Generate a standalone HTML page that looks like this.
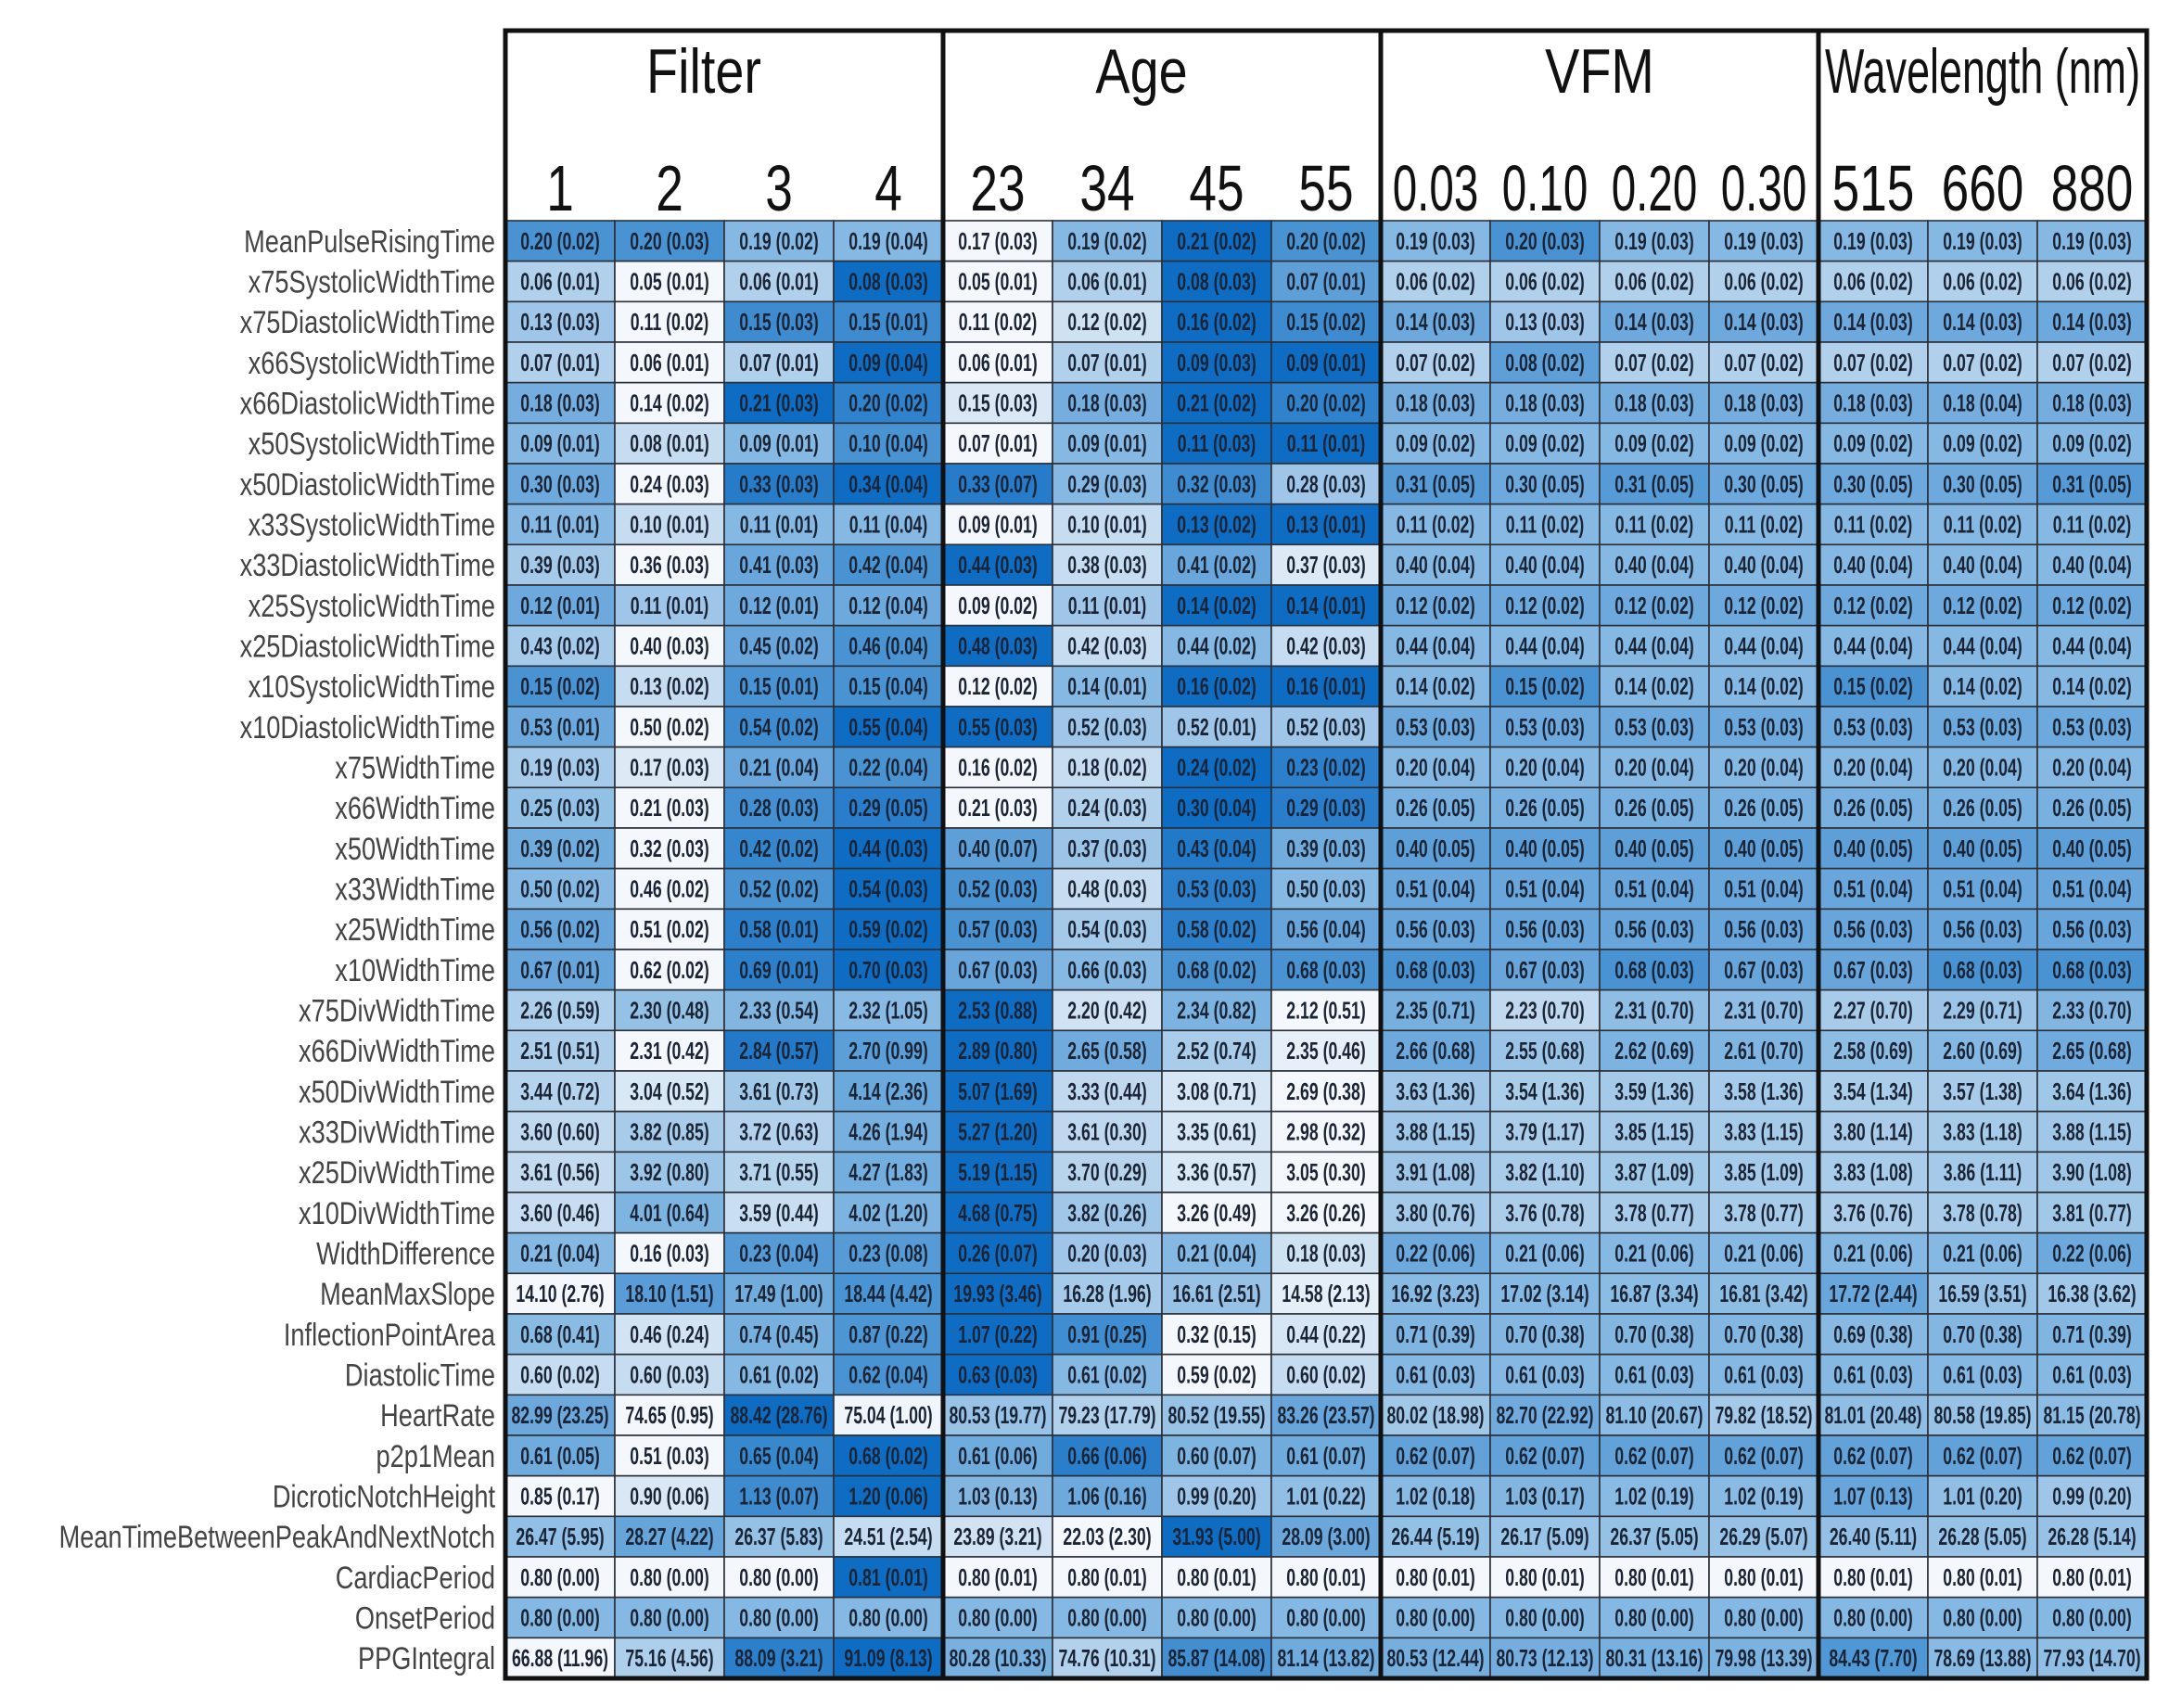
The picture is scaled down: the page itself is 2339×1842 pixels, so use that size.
<!DOCTYPE html>
<html><head><meta charset="utf-8"><style>
html,body{margin:0;padding:0;background:#fff;}
svg{display:block;}
</style></head><body>
<svg id="chart" width="2339" height="1842" viewBox="0 0 2339 1842" xmlns="http://www.w3.org/2000/svg"></svg>
<script>
const groups = ["Filter","Age","VFM","Wavelength (nm)"];
const groupCols = [["1","2","3","4"],["23","34","45","55"],["0.03","0.10","0.20","0.30"],["515","660","880"]];
const rowLabels = ["MeanPulseRisingTime","x75SystolicWidthTime","x75DiastolicWidthTime","x66SystolicWidthTime","x66DiastolicWidthTime","x50SystolicWidthTime","x50DiastolicWidthTime","x33SystolicWidthTime","x33DiastolicWidthTime","x25SystolicWidthTime","x25DiastolicWidthTime","x10SystolicWidthTime","x10DiastolicWidthTime","x75WidthTime","x66WidthTime","x50WidthTime","x33WidthTime","x25WidthTime","x10WidthTime","x75DivWidthTime","x66DivWidthTime","x50DivWidthTime","x33DivWidthTime","x25DivWidthTime","x10DivWidthTime","WidthDifference","MeanMaxSlope","InflectionPointArea","DiastolicTime","HeartRate","p2p1Mean","DicroticNotchHeight","MeanTimeBetweenPeakAndNextNotch","CardiacPeriod","OnsetPeriod","PPGIntegral"];
const cellText = [
["0.20 (0.02)","0.20 (0.03)","0.19 (0.02)","0.19 (0.04)","0.17 (0.03)","0.19 (0.02)","0.21 (0.02)","0.20 (0.02)","0.19 (0.03)","0.20 (0.03)","0.19 (0.03)","0.19 (0.03)","0.19 (0.03)","0.19 (0.03)","0.19 (0.03)"],
["0.06 (0.01)","0.05 (0.01)","0.06 (0.01)","0.08 (0.03)","0.05 (0.01)","0.06 (0.01)","0.08 (0.03)","0.07 (0.01)","0.06 (0.02)","0.06 (0.02)","0.06 (0.02)","0.06 (0.02)","0.06 (0.02)","0.06 (0.02)","0.06 (0.02)"],
["0.13 (0.03)","0.11 (0.02)","0.15 (0.03)","0.15 (0.01)","0.11 (0.02)","0.12 (0.02)","0.16 (0.02)","0.15 (0.02)","0.14 (0.03)","0.13 (0.03)","0.14 (0.03)","0.14 (0.03)","0.14 (0.03)","0.14 (0.03)","0.14 (0.03)"],
["0.07 (0.01)","0.06 (0.01)","0.07 (0.01)","0.09 (0.04)","0.06 (0.01)","0.07 (0.01)","0.09 (0.03)","0.09 (0.01)","0.07 (0.02)","0.08 (0.02)","0.07 (0.02)","0.07 (0.02)","0.07 (0.02)","0.07 (0.02)","0.07 (0.02)"],
["0.18 (0.03)","0.14 (0.02)","0.21 (0.03)","0.20 (0.02)","0.15 (0.03)","0.18 (0.03)","0.21 (0.02)","0.20 (0.02)","0.18 (0.03)","0.18 (0.03)","0.18 (0.03)","0.18 (0.03)","0.18 (0.03)","0.18 (0.04)","0.18 (0.03)"],
["0.09 (0.01)","0.08 (0.01)","0.09 (0.01)","0.10 (0.04)","0.07 (0.01)","0.09 (0.01)","0.11 (0.03)","0.11 (0.01)","0.09 (0.02)","0.09 (0.02)","0.09 (0.02)","0.09 (0.02)","0.09 (0.02)","0.09 (0.02)","0.09 (0.02)"],
["0.30 (0.03)","0.24 (0.03)","0.33 (0.03)","0.34 (0.04)","0.33 (0.07)","0.29 (0.03)","0.32 (0.03)","0.28 (0.03)","0.31 (0.05)","0.30 (0.05)","0.31 (0.05)","0.30 (0.05)","0.30 (0.05)","0.30 (0.05)","0.31 (0.05)"],
["0.11 (0.01)","0.10 (0.01)","0.11 (0.01)","0.11 (0.04)","0.09 (0.01)","0.10 (0.01)","0.13 (0.02)","0.13 (0.01)","0.11 (0.02)","0.11 (0.02)","0.11 (0.02)","0.11 (0.02)","0.11 (0.02)","0.11 (0.02)","0.11 (0.02)"],
["0.39 (0.03)","0.36 (0.03)","0.41 (0.03)","0.42 (0.04)","0.44 (0.03)","0.38 (0.03)","0.41 (0.02)","0.37 (0.03)","0.40 (0.04)","0.40 (0.04)","0.40 (0.04)","0.40 (0.04)","0.40 (0.04)","0.40 (0.04)","0.40 (0.04)"],
["0.12 (0.01)","0.11 (0.01)","0.12 (0.01)","0.12 (0.04)","0.09 (0.02)","0.11 (0.01)","0.14 (0.02)","0.14 (0.01)","0.12 (0.02)","0.12 (0.02)","0.12 (0.02)","0.12 (0.02)","0.12 (0.02)","0.12 (0.02)","0.12 (0.02)"],
["0.43 (0.02)","0.40 (0.03)","0.45 (0.02)","0.46 (0.04)","0.48 (0.03)","0.42 (0.03)","0.44 (0.02)","0.42 (0.03)","0.44 (0.04)","0.44 (0.04)","0.44 (0.04)","0.44 (0.04)","0.44 (0.04)","0.44 (0.04)","0.44 (0.04)"],
["0.15 (0.02)","0.13 (0.02)","0.15 (0.01)","0.15 (0.04)","0.12 (0.02)","0.14 (0.01)","0.16 (0.02)","0.16 (0.01)","0.14 (0.02)","0.15 (0.02)","0.14 (0.02)","0.14 (0.02)","0.15 (0.02)","0.14 (0.02)","0.14 (0.02)"],
["0.53 (0.01)","0.50 (0.02)","0.54 (0.02)","0.55 (0.04)","0.55 (0.03)","0.52 (0.03)","0.52 (0.01)","0.52 (0.03)","0.53 (0.03)","0.53 (0.03)","0.53 (0.03)","0.53 (0.03)","0.53 (0.03)","0.53 (0.03)","0.53 (0.03)"],
["0.19 (0.03)","0.17 (0.03)","0.21 (0.04)","0.22 (0.04)","0.16 (0.02)","0.18 (0.02)","0.24 (0.02)","0.23 (0.02)","0.20 (0.04)","0.20 (0.04)","0.20 (0.04)","0.20 (0.04)","0.20 (0.04)","0.20 (0.04)","0.20 (0.04)"],
["0.25 (0.03)","0.21 (0.03)","0.28 (0.03)","0.29 (0.05)","0.21 (0.03)","0.24 (0.03)","0.30 (0.04)","0.29 (0.03)","0.26 (0.05)","0.26 (0.05)","0.26 (0.05)","0.26 (0.05)","0.26 (0.05)","0.26 (0.05)","0.26 (0.05)"],
["0.39 (0.02)","0.32 (0.03)","0.42 (0.02)","0.44 (0.03)","0.40 (0.07)","0.37 (0.03)","0.43 (0.04)","0.39 (0.03)","0.40 (0.05)","0.40 (0.05)","0.40 (0.05)","0.40 (0.05)","0.40 (0.05)","0.40 (0.05)","0.40 (0.05)"],
["0.50 (0.02)","0.46 (0.02)","0.52 (0.02)","0.54 (0.03)","0.52 (0.03)","0.48 (0.03)","0.53 (0.03)","0.50 (0.03)","0.51 (0.04)","0.51 (0.04)","0.51 (0.04)","0.51 (0.04)","0.51 (0.04)","0.51 (0.04)","0.51 (0.04)"],
["0.56 (0.02)","0.51 (0.02)","0.58 (0.01)","0.59 (0.02)","0.57 (0.03)","0.54 (0.03)","0.58 (0.02)","0.56 (0.04)","0.56 (0.03)","0.56 (0.03)","0.56 (0.03)","0.56 (0.03)","0.56 (0.03)","0.56 (0.03)","0.56 (0.03)"],
["0.67 (0.01)","0.62 (0.02)","0.69 (0.01)","0.70 (0.03)","0.67 (0.03)","0.66 (0.03)","0.68 (0.02)","0.68 (0.03)","0.68 (0.03)","0.67 (0.03)","0.68 (0.03)","0.67 (0.03)","0.67 (0.03)","0.68 (0.03)","0.68 (0.03)"],
["2.26 (0.59)","2.30 (0.48)","2.33 (0.54)","2.32 (1.05)","2.53 (0.88)","2.20 (0.42)","2.34 (0.82)","2.12 (0.51)","2.35 (0.71)","2.23 (0.70)","2.31 (0.70)","2.31 (0.70)","2.27 (0.70)","2.29 (0.71)","2.33 (0.70)"],
["2.51 (0.51)","2.31 (0.42)","2.84 (0.57)","2.70 (0.99)","2.89 (0.80)","2.65 (0.58)","2.52 (0.74)","2.35 (0.46)","2.66 (0.68)","2.55 (0.68)","2.62 (0.69)","2.61 (0.70)","2.58 (0.69)","2.60 (0.69)","2.65 (0.68)"],
["3.44 (0.72)","3.04 (0.52)","3.61 (0.73)","4.14 (2.36)","5.07 (1.69)","3.33 (0.44)","3.08 (0.71)","2.69 (0.38)","3.63 (1.36)","3.54 (1.36)","3.59 (1.36)","3.58 (1.36)","3.54 (1.34)","3.57 (1.38)","3.64 (1.36)"],
["3.60 (0.60)","3.82 (0.85)","3.72 (0.63)","4.26 (1.94)","5.27 (1.20)","3.61 (0.30)","3.35 (0.61)","2.98 (0.32)","3.88 (1.15)","3.79 (1.17)","3.85 (1.15)","3.83 (1.15)","3.80 (1.14)","3.83 (1.18)","3.88 (1.15)"],
["3.61 (0.56)","3.92 (0.80)","3.71 (0.55)","4.27 (1.83)","5.19 (1.15)","3.70 (0.29)","3.36 (0.57)","3.05 (0.30)","3.91 (1.08)","3.82 (1.10)","3.87 (1.09)","3.85 (1.09)","3.83 (1.08)","3.86 (1.11)","3.90 (1.08)"],
["3.60 (0.46)","4.01 (0.64)","3.59 (0.44)","4.02 (1.20)","4.68 (0.75)","3.82 (0.26)","3.26 (0.49)","3.26 (0.26)","3.80 (0.76)","3.76 (0.78)","3.78 (0.77)","3.78 (0.77)","3.76 (0.76)","3.78 (0.78)","3.81 (0.77)"],
["0.21 (0.04)","0.16 (0.03)","0.23 (0.04)","0.23 (0.08)","0.26 (0.07)","0.20 (0.03)","0.21 (0.04)","0.18 (0.03)","0.22 (0.06)","0.21 (0.06)","0.21 (0.06)","0.21 (0.06)","0.21 (0.06)","0.21 (0.06)","0.22 (0.06)"],
["14.10 (2.76)","18.10 (1.51)","17.49 (1.00)","18.44 (4.42)","19.93 (3.46)","16.28 (1.96)","16.61 (2.51)","14.58 (2.13)","16.92 (3.23)","17.02 (3.14)","16.87 (3.34)","16.81 (3.42)","17.72 (2.44)","16.59 (3.51)","16.38 (3.62)"],
["0.68 (0.41)","0.46 (0.24)","0.74 (0.45)","0.87 (0.22)","1.07 (0.22)","0.91 (0.25)","0.32 (0.15)","0.44 (0.22)","0.71 (0.39)","0.70 (0.38)","0.70 (0.38)","0.70 (0.38)","0.69 (0.38)","0.70 (0.38)","0.71 (0.39)"],
["0.60 (0.02)","0.60 (0.03)","0.61 (0.02)","0.62 (0.04)","0.63 (0.03)","0.61 (0.02)","0.59 (0.02)","0.60 (0.02)","0.61 (0.03)","0.61 (0.03)","0.61 (0.03)","0.61 (0.03)","0.61 (0.03)","0.61 (0.03)","0.61 (0.03)"],
["82.99 (23.25)","74.65 (0.95)","88.42 (28.76)","75.04 (1.00)","80.53 (19.77)","79.23 (17.79)","80.52 (19.55)","83.26 (23.57)","80.02 (18.98)","82.70 (22.92)","81.10 (20.67)","79.82 (18.52)","81.01 (20.48)","80.58 (19.85)","81.15 (20.78)"],
["0.61 (0.05)","0.51 (0.03)","0.65 (0.04)","0.68 (0.02)","0.61 (0.06)","0.66 (0.06)","0.60 (0.07)","0.61 (0.07)","0.62 (0.07)","0.62 (0.07)","0.62 (0.07)","0.62 (0.07)","0.62 (0.07)","0.62 (0.07)","0.62 (0.07)"],
["0.85 (0.17)","0.90 (0.06)","1.13 (0.07)","1.20 (0.06)","1.03 (0.13)","1.06 (0.16)","0.99 (0.20)","1.01 (0.22)","1.02 (0.18)","1.03 (0.17)","1.02 (0.19)","1.02 (0.19)","1.07 (0.13)","1.01 (0.20)","0.99 (0.20)"],
["26.47 (5.95)","28.27 (4.22)","26.37 (5.83)","24.51 (2.54)","23.89 (3.21)","22.03 (2.30)","31.93 (5.00)","28.09 (3.00)","26.44 (5.19)","26.17 (5.09)","26.37 (5.05)","26.29 (5.07)","26.40 (5.11)","26.28 (5.05)","26.28 (5.14)"],
["0.80 (0.00)","0.80 (0.00)","0.80 (0.00)","0.81 (0.01)","0.80 (0.01)","0.80 (0.01)","0.80 (0.01)","0.80 (0.01)","0.80 (0.01)","0.80 (0.01)","0.80 (0.01)","0.80 (0.01)","0.80 (0.01)","0.80 (0.01)","0.80 (0.01)"],
["0.80 (0.00)","0.80 (0.00)","0.80 (0.00)","0.80 (0.00)","0.80 (0.00)","0.80 (0.00)","0.80 (0.00)","0.80 (0.00)","0.80 (0.00)","0.80 (0.00)","0.80 (0.00)","0.80 (0.00)","0.80 (0.00)","0.80 (0.00)","0.80 (0.00)"],
["66.88 (11.96)","75.16 (4.56)","88.09 (3.21)","91.09 (8.13)","80.28 (10.33)","74.76 (10.31)","85.87 (14.08)","81.14 (13.82)","80.53 (12.44)","80.73 (12.13)","80.31 (13.16)","79.98 (13.39)","84.43 (7.70)","78.69 (13.88)","77.93 (14.70)"]
];

const NS = "http://www.w3.org/2000/svg";
const svg = document.getElementById('chart');
const L = 545, T = 33, HB = 238, B = 1810, CW = 118;
const nRows = rowLabels.length;
const RH = (B - HB) / nRows;
const colX = i => L + i * CW;
const rowY = r => HB + r * RH;
const stops = [[244,248,252],[198,220,240],[133,184,226],[74,147,211],[14,108,194]];
function shade(t){
  t = Math.max(0, Math.min(1, t));
  const p = t * (stops.length - 1), i = Math.min(Math.floor(p), stops.length - 2), f = p - i;
  const c = stops[i].map((v, k) => Math.round(v + (stops[i+1][k] - v) * f));
  return `rgb(${c[0]},${c[1]},${c[2]})`;
}
function el(tag, attrs){ const e = document.createElementNS(NS, tag); for (const k in attrs) e.setAttribute(k, attrs[k]); return e; }

const hb = el('rect', {x:L, y:T, width:colX(15)-L, height:HB-T, fill:'#fff'});


svg.appendChild(hb);

for (let r = 0; r < nRows; r++) {
  const vals = cellText[r].map(s => parseFloat(s));
  const mn = Math.min(...vals), mx = Math.max(...vals);
  for (let c = 0; c < 15; c++) {
    const t = mx > mn ? (vals[c] - mn) / (mx - mn) : 0.5;
    const rect = el('rect', {x:colX(c), y:rowY(r), width:CW, height:RH, fill:shade(t), stroke:'#2a2f38', 'stroke-width':1.6});
    
    
    svg.appendChild(rect);
    const g = el('g', {transform:`translate(${colX(c)+CW/2},${rowY(r)+RH/2+9}) scale(0.68,1)`});
    const tx = el('text', {x:0, y:0, 'text-anchor':'middle', 'font-family':'Liberation Sans, sans-serif', 'font-size':26, 'font-weight':'bold', fill:'#1b2435'});
    tx.textContent = cellText[r][c];
    
    
    g.appendChild(tx);
    svg.appendChild(g);
  }
  const g = el('g', {transform:`translate(534,${rowY(r)+RH/2+12}) scale(0.8,1)`});
  const lt = el('text', {x:0, y:0, 'text-anchor':'end', 'font-family':'Liberation Sans, sans-serif', 'font-size':34, fill:'#444'});
  lt.textContent = rowLabels[r];
  
  
  g.appendChild(lt);
  svg.appendChild(g);
}

const titleShift = [-22, -22, 0, 0];
const titleScale = [0.82, 0.82, 0.82, 0.66];
let ci = 0;
for (let gi = 0; gi < groups.length; gi++) {
  const n = groupCols[gi].length;
  const x0 = colX(ci), x1 = colX(ci + n);
  const gt = el('g', {transform:`translate(${(x0+x1)/2+titleShift[gi]},100) scale(${titleScale[gi]},1)`});
  const tt = el('text', {x:0, y:0, 'text-anchor':'middle', 'font-family':'Liberation Sans, sans-serif', 'font-size':68, fill:'#111'});
  tt.textContent = groups[gi];
  
  
  gt.appendChild(tt);
  svg.appendChild(gt);
  for (let k = 0; k < n; k++) {
    const ct = el('g', {transform:`translate(${colX(ci+k)+CW/2},227) scale(${gi===2?0.68:0.76},1)`});
    const t2 = el('text', {x:0, y:0, 'text-anchor':'middle', 'font-family':'Liberation Sans, sans-serif', 'font-size':70, fill:'#111'});
    t2.textContent = groupCols[gi][k];
    
    
    ct.appendChild(t2);
    svg.appendChild(ct);
  }
  const box = el('rect', {x:x0, y:T, width:x1-x0, height:B-T, fill:'none', stroke:'#111', 'stroke-width':5});
  
  
  svg.appendChild(box);
  ci += n;
}
</script>
</body></html>
